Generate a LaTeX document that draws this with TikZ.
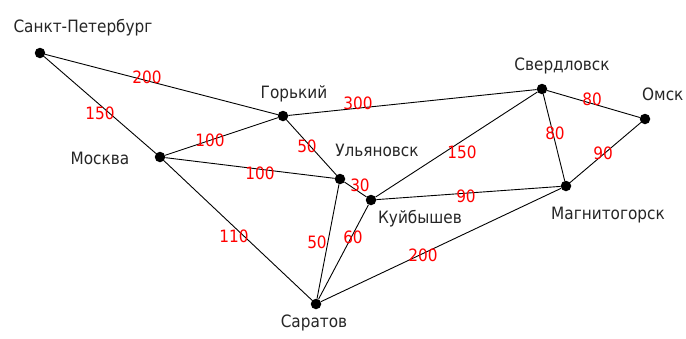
\documentclass[tikz,border=0pt]{standalone}
\usepackage{fontspec}
\setmainfont{DejaVu Sans Condensed}
\begin{document}
\begin{tikzpicture}[x=1pt,y=-1pt,
  city/.style={circle,fill=black,inner sep=0pt,minimum size=10.5pt},
  cname/.style={font=\fontsize{17}{19}\selectfont,inner sep=0pt,text=black!85},
  wt/.style={font=\fontsize{17}{19}\selectfont,inner sep=0pt,text=red},
  road/.style={draw=black,line width=0.9pt}]
\fill[white] (0,0) rectangle (686,338);
\useasboundingbox (0,0) rectangle (686,338);
% cities
\node[city] (spb) at (40,53) {};
\node[city] (msk) at (160,157) {};
\node[city] (gor) at (283,116) {};
\node[city] (uly) at (340,179) {};
\node[city] (kui) at (371,200) {};
\node[city] (sar) at (316,304) {};
\node[city] (sve) at (542,89) {};
\node[city] (oms) at (645,119) {};
\node[city] (mag) at (566,186) {};
% names
\node[cname] (nspb) at (83,28) {Санкт-Петербург};
\node[cname] (nmsk) at (100,158) {Москва};
\node[cname] (ngor) at (294,94) {Горький};
\node[cname] (nuly) at (377,150) {Ульяновск};
\node[cname] (nkui) at (420,219) {Куйбышев};
\node[cname] (nsar) at (314,323) {Саратов};
\node[cname] (nsve) at (562,66) {Свердловск};
\node[cname,anchor=west] (noms) at (642,94) {Омск};
\node[cname] (nmag) at (608,215) {Магнитогорск};
% roads
\draw[road] (spb) -- (gor);
\draw[road] (spb) -- (msk);
\draw[road] (msk) -- (gor);
\draw[road] (msk) -- (uly);
\draw[road] (msk) -- (sar);
\draw[road] (gor) -- (sve);
\draw[road] (gor) -- (uly);
\draw[road] (uly) -- (kui);
\draw[road] (uly) -- (sar);
\draw[road] (kui) -- (sar);
\draw[road] (kui) -- (sve);
\draw[road] (kui) -- (mag);
\draw[road] (sve) -- (oms);
\draw[road] (sve) -- (mag);
\draw[road] (oms) -- (mag);
\draw[road] (sar) -- (mag);
% weights
\node[wt] (w1) at (147,77) {200};
\node[wt] (w2) at (100,113) {150};
\node[wt] (w3) at (210,140) {100};
\node[wt] (w4) at (260,173) {100};
\node[wt] (w5) at (358,103) {300};
\node[wt] (w6) at (307,146) {50};
\node[wt] (w7) at (360,185) {30};
\node[wt] (w8) at (462,152) {150};
\node[wt] (w9) at (466,196) {90};
\node[wt] (w10) at (592,99) {80};
\node[wt] (w11) at (555,133) {80};
\node[wt] (w12) at (603,153) {90};
\node[wt] (w13) at (234,236) {110};
\node[wt] (w14) at (317,242) {50};
\node[wt] (w15) at (353,237) {60};
\node[wt] (w16) at (423,255) {200};
\end{tikzpicture}
\end{document}
